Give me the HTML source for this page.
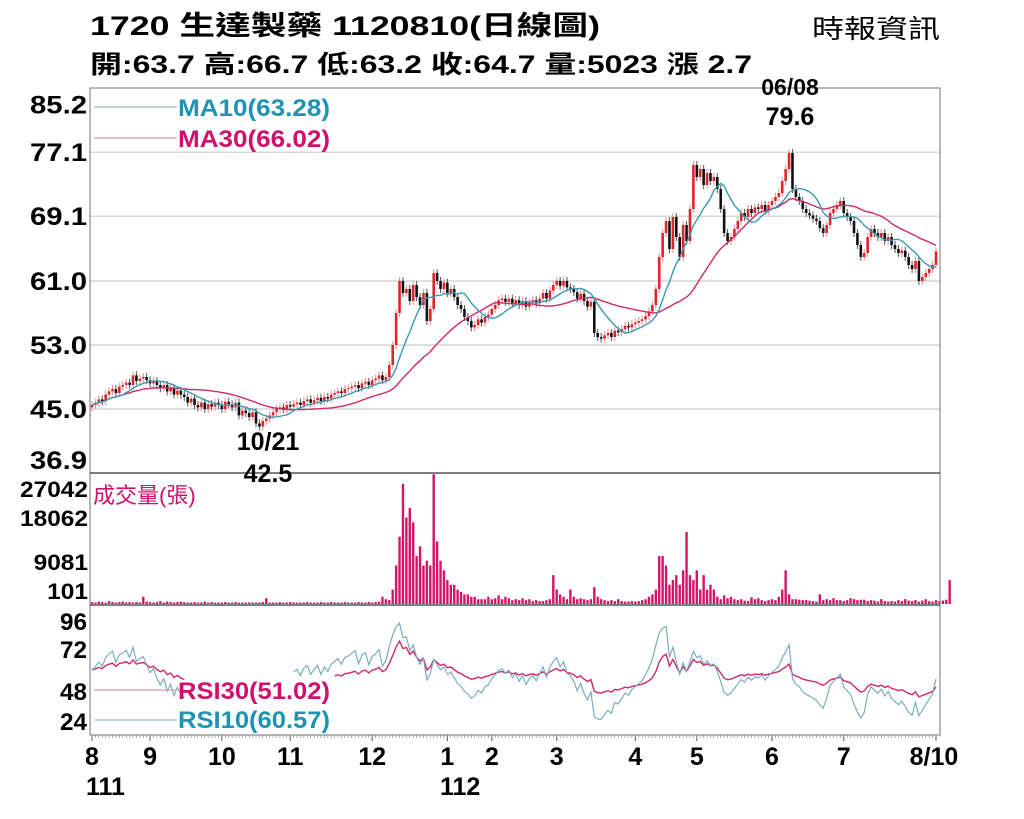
<!DOCTYPE html>
<html><head><meta charset="utf-8"><style>
html,body{margin:0;padding:0;background:#fff;}
svg{display:block;font-family:"Liberation Sans","Noto Sans CJK TC",sans-serif;}
</style></head><body>
<svg id="chart" width="1024" height="819" viewBox="0 0 1024 819" xmlns="http://www.w3.org/2000/svg">
<rect width="1024" height="819" fill="#fff"/>
<text x="90" y="35" font-size="27" font-weight="bold" textLength="510" lengthAdjust="spacingAndGlyphs">1720  生達製藥 1120810(日線圖)</text>
<text x="90" y="73" font-size="25" font-weight="bold" textLength="662" lengthAdjust="spacingAndGlyphs">開:63.7 高:66.7 低:63.2 收:64.7 量:5023 漲 2.7</text>
<text x="812" y="38" font-size="26" textLength="128" lengthAdjust="spacingAndGlyphs">時報資訊</text>
<g id="grid"></g>
<g id="marks"></g>
<rect x="90" y="88" width="850" height="647" fill="none" stroke="#888" stroke-width="1.2"/>
<line x1="90" y1="473" x2="940" y2="473" stroke="#555" stroke-width="1.5"/>
<line x1="90" y1="605" x2="940" y2="605" stroke="#555" stroke-width="1.5"/>
<g id="labels"></g>
</svg>
<script>
const closes=[45.5,45.8,46.2,46.0,46.8,47.2,47.5,47.0,47.8,48.0,
48.3,48.0,49.2,48.5,48.8,49.0,48.6,48.2,48.5,48.0,
47.6,48.0,47.2,47.6,46.8,47.3,46.8,46.5,45.8,46.3,
45.5,45.2,45.8,45.0,45.6,45.3,45.8,45.5,45.0,45.9,
45.6,45.2,45.8,44.2,44.8,44.5,44.0,44.6,43.2,42.8,
43.5,43.8,44.2,44.6,45.0,45.2,45.0,45.5,45.3,45.6,
45.8,45.5,46.0,46.2,45.8,46.1,46.4,46.0,46.5,46.3,
46.8,47.0,47.2,47.0,47.5,47.6,47.8,48.0,47.6,48.2,
48.4,48.0,48.6,48.8,49.2,48.6,49.0,50.5,53.0,57.0,
61.0,59.5,60.0,58.5,60.5,59.0,58.0,59.5,56.0,57.5,
62.0,61.0,60.0,60.8,59.5,60.0,59.0,58.0,57.5,56.5,
56.0,55.2,55.5,56.2,55.8,56.5,56.8,57.5,58.0,58.6,
58.8,58.4,58.8,58.2,58.6,58.0,58.5,57.8,58.3,58.6,
58.2,58.8,59.5,58.8,59.8,60.5,61.0,60.4,61.0,60.2,
60.0,59.6,58.8,59.4,58.5,57.8,58.4,54.5,54.0,53.8,
54.2,54.5,54.0,54.8,54.6,55.0,55.4,55.2,55.6,55.8,
56.0,56.2,56.6,57.2,58.0,60.0,64.0,67.0,68.5,65.0,
69.0,66.5,64.0,68.0,66.0,70.0,75.5,74.0,75.0,73.0,
74.5,73.5,74.0,72.5,70.0,67.0,66.0,66.5,67.5,68.5,
69.5,69.0,70.0,69.5,70.2,70.0,70.5,69.8,70.5,71.0,
71.5,72.0,73.5,75.0,77.0,72.5,71.5,71.0,70.0,69.5,
69.2,68.8,68.5,67.6,67.0,68.0,69.5,70.0,70.5,71.0,
69.5,69.0,68.5,67.0,65.5,64.0,64.5,66.5,67.5,67.0,
66.5,67.0,66.0,66.5,65.5,65.0,64.5,64.8,64.0,63.0,
62.5,63.5,61.0,61.5,62.0,62.5,63.0,64.7];
const volumes=[0.4,0.3,0.5,0.4,0.3,0.6,0.4,0.3,0.4,0.5,0.3,0.4,0.3,0.4,0.3,1.5,0.5,0.4,0.3,0.4,
0.6,0.3,0.5,0.4,0.3,0.4,0.5,0.4,0.3,0.3,0.4,0.3,0.3,0.5,0.3,0.4,0.3,0.3,0.3,0.4,
0.3,0.3,0.4,0.3,0.3,0.3,0.3,0.3,0.3,0.3,0.4,1.2,0.3,0.3,0.3,0.4,0.3,0.3,0.4,0.3,
0.3,0.3,0.3,0.4,0.3,0.3,0.3,0.4,0.3,0.3,0.4,0.3,0.3,0.3,0.4,0.3,0.3,0.3,0.4,0.3,
0.3,0.4,0.3,0.4,0.5,1.5,1.0,0.8,3,8,14,25,18,20,17,10,12,8,9,8,
27,13,9,7,5,4,4,3,2.5,2,2,1.5,1.5,1,1,1,1.5,1,1.2,1.8,1,1.5,1.2,0.8,1,0.8,1.2,0.8,1,0.6,
0.8,0.6,0.6,0.8,1,6,3,2,1.5,1,3,1.5,1,1.2,1,0.8,1,3.5,1.5,1,0.8,0.6,0.8,0.6,1,0.6,
0.5,0.5,0.6,0.5,0.6,0.8,1,1.5,2,3,10,10,8,4,5,6,4,7,15,6,5,7,3,6,3,4,3,1.5,1,1.8,1.2,1.5,1,
0.8,1,0.7,0.6,1.4,1,1.2,0.8,0.6,0.8,1,0.8,1.5,3,7,2,1,1,0.9,0.8,0.8,0.7,0.6,0.5,2,0.8,1,0.8,
1.2,0.8,0.8,0.6,0.8,1.2,1,0.8,0.9,0.9,0.6,0.8,0.7,0.5,1,0.6,0.5,0.6,0.5,
0.8,0.6,1,0.7,0.6,0.8,0.5,0.7,1,0.6,0.5,0.8,0.6,0.7,0.9,5];
const priceTicks=["85.2","77.1","69.1","61.0","53.0","45.0","36.9"];
const priceTickVals=[85.2,77.1,69.1,61.0,53.0,45.0,36.9];
const volTicks=["27042","18062","9081","101"];
const volTickVals=[27042,18062,9081,101];
const rsiTicks=["96","72","48","24"];
const rsiTickVals=[96,72,48,24];
const monthLabels=["8","9","10","11","12","1","2","3","4","5","6","7","8/10"];
const monthIndex=[0,17,38,58,82,104,117,136,159,177,199,220,247];

const NS="http://www.w3.org/2000/svg";
const grid=document.getElementById('grid'),marks=document.getElementById('marks'),labels=document.getElementById('labels');
const X0=92,X1=936;
function xS(i){return X0+(X1-X0)*i/(closes.length-1);}
function yP(v){return 409-(v-45)*8;}
function yV(k){return 604-k*1000*(130/27042);}
function yR(v){return Math.min(734,Math.max(606,720-(v-24)*100/72));}
function el(tag,attrs,parent){const e=document.createElementNS(NS,tag);for(const k in attrs)e.setAttribute(k,attrs[k]);parent.appendChild(e);return e;}

priceTickVals.forEach((v,j)=>{
 if(j>0&&j<6){const g=el('line',{x1:90,x2:940,y1:yP(v),y2:yP(v),stroke:'#ccc','stroke-width':1.2},grid);
 
 }
 const t=el('text',{x:30,y:(j==0?yP(v)+26:(j==6?yP(v)-5:yP(v)+9)),'font-size':25,'font-weight':'bold',textLength:57,lengthAdjust:'spacingAndGlyphs'},labels);
 t.textContent=priceTicks[j];
 
 
});
const volY=[497,526,570,599];
volTickVals.forEach((v,j)=>{
 const w=volTicks[j].length*13.6;
 const t=el('text',{x:88-w,y:volY[j],'font-size':22,'font-weight':'bold',textLength:w,lengthAdjust:'spacingAndGlyphs'},labels);
 t.textContent=volTicks[j];
 
 
});
const rsiY=[630,658,700,730];
rsiTickVals.forEach((v,j)=>{
 const t=el('text',{x:60,y:rsiY[j],'font-size':24,'font-weight':'bold',textLength:27,lengthAdjust:'spacingAndGlyphs'},labels);
 t.textContent=rsiTicks[j];
 
 
});
monthLabels.forEach((m,j)=>{
 const x=xS(monthIndex[j]);
 el('line',{x1:x,x2:x,y1:735,y2:741,stroke:'#555'},grid);
 const t=el('text',{x:(j==12?x-2:x),y:765,'font-size':25,'font-weight':'bold','text-anchor':'middle'},labels);
 t.textContent=m;
 
 
});
for(let i=0;i<closes.length;i++){el('line',{x1:xS(i),x2:xS(i),y1:735,y2:738,stroke:'#777','stroke-width':0.6},grid);}
[["111",86],["112",440]].forEach(a=>{const t=el('text',{x:a[1],y:795,'font-size':25,'font-weight':'bold'},labels);t.textContent=a[0];
 
 });

for(let i=0;i<closes.length;i++){
 const o=i?closes[i-1]:closes[0]-0.3,c=closes[i];
 const up=c>=o,col=up?'#e0242c':'#111';
 const x=xS(i),hi=Math.max(o,c)+0.5,lo=Math.min(o,c)-0.5;
 const w=el('line',{x1:x,x2:x,y1:yP(hi),y2:yP(lo),stroke:up?'#e8908f':'#555','stroke-width':1},marks);
 
 
 const b=el('rect',{x:x-1.3,y:yP(Math.max(o,c)),width:2.6,height:Math.max(1,Math.abs(yP(o)-yP(c))),fill:col},marks);
 
 
}
function ma(n){return closes.map((_,i)=>{const s=closes.slice(Math.max(0,i-n+1),i+1);return s.reduce((a,b)=>a+b,0)/s.length;});}
function path(vals,fy,skip){let d='',pen=false;vals.forEach((v,i)=>{if(skip&&skip(i)){pen=false;return;}d+=(pen?'L':'M')+xS(i).toFixed(1)+' '+fy(v).toFixed(1);pen=true;});return d;}
const ma30=el('path',{d:path(ma(30),yP),fill:'none',stroke:'#d0286a','stroke-width':1.4},marks);


const ma10=el('path',{d:path(ma(10),yP),fill:'none',stroke:'#3a9ab0','stroke-width':1.4},marks);



volumes.forEach((v,i)=>{
 const r=el('rect',{x:xS(i)-1.2,y:yV(v),width:2.4,height:604-yV(v),fill:'#d4156a'},marks);
 
 
});
function rsi(n){const out=[];let ag=0,al=0;for(let i=0;i<closes.length;i++){const d=i?closes[i]-closes[i-1]:0;const g=Math.max(d,0),l=Math.max(-d,0);
 if(i==0){ag=0.3;al=0.2;}else{ag=(ag*(n-1)+g)/n;al=(al*(n-1)+l)/n;}out.push(100*ag/(ag+al||1));}return out;}
const r30=el('path',{d:path(rsi(30),yR,i=>i>27&&i<71),fill:'none',stroke:'#d0286a','stroke-width':1.4},marks);


const r10=el('path',{d:path(rsi(10),yR,i=>i>27&&i<59),fill:'none',stroke:'#6fa8b8','stroke-width':1.1},marks);


</script>
<svg style="position:absolute;left:0;top:0" width="1024" height="819" viewBox="0 0 1024 819" xmlns="http://www.w3.org/2000/svg" font-family="Liberation Sans, Noto Sans CJK TC, sans-serif">
<g><line x1="94" y1="107" x2="177" y2="107" stroke="#9ab8c4" stroke-width="1.2"/><rect x="177" y="93" width="156" height="26" fill="#fff"/><text x="178" y="116" font-size="24" font-weight="bold" fill="#1f93b4" textLength="152" lengthAdjust="spacingAndGlyphs">MA10(63.28)</text></g>
<g><line x1="94" y1="138" x2="177" y2="138" stroke="#d89ab0" stroke-width="1.2"/><rect x="177" y="124" width="156" height="26" fill="#fff"/><text x="178" y="147" font-size="24" font-weight="bold" fill="#d0106a" textLength="152" lengthAdjust="spacingAndGlyphs">MA30(66.02)</text></g>
<text x="790" y="95" font-size="23" font-weight="bold" text-anchor="middle">06/08</text>
<text x="790" y="125" font-size="25" font-weight="bold" text-anchor="middle">79.6</text>
<text x="268" y="450" font-size="25" font-weight="bold" text-anchor="middle">10/21</text>
<text x="268" y="482" font-size="25" font-weight="bold" text-anchor="middle">42.5</text>
<text x="93" y="503" font-size="22" fill="#d0106a">成交量(張)</text>
<g><line x1="94" y1="690" x2="177" y2="690" stroke="#d89ab0" stroke-width="1.2"/><text x="178" y="699" font-size="24" font-weight="bold" fill="#d0106a" textLength="152" lengthAdjust="spacingAndGlyphs">RSI30(51.02)</text></g>
<g><line x1="94" y1="720" x2="177" y2="720" stroke="#9ab8c4" stroke-width="1.2"/><text x="178" y="728" font-size="24" font-weight="bold" fill="#1f93b4" textLength="152" lengthAdjust="spacingAndGlyphs">RSI10(60.57)</text></g>
</svg>
</body></html>
